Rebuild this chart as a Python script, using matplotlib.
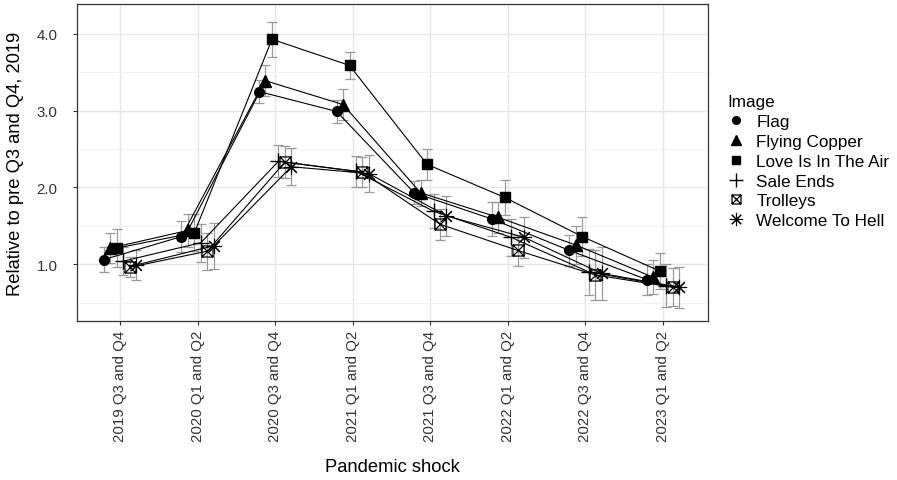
import numpy as np
import matplotlib
matplotlib.use("Agg")
import matplotlib.pyplot as plt
from matplotlib.path import Path
from matplotlib.lines import Line2D

plt.rcParams['font.family'] = ['Liberation Sans', 'DejaVu Sans']

categories = ['2019 Q3 and Q4', '2020 Q1 and Q2', '2020 Q3 and Q4', '2021 Q1 and Q2',
              '2021 Q3 and Q4', '2022 Q1 and Q2', '2022 Q3 and Q4', '2023 Q1 and Q2']
series = ['Flag', 'Flying Copper', 'Love Is In The Air', 'Sale Ends', 'Trolleys', 'Welcome To Hell']

flag = [1.06, 1.36, 3.25, 2.99, 1.93, 1.59, 1.18, 0.80]
flying_copper = [1.21, 1.44, 3.39, 3.08, 1.93, 1.61, 1.25, 0.83]
love = [1.21, 1.41, 3.93, 3.59, 2.30, 1.87, 1.36, 0.91]
sale_ends = [1.04, 1.28, 2.34, 2.21, 1.69, 1.35, 0.90, 0.72]
trolleys = [0.96, 1.17, 2.33, 2.20, 1.52, 1.18, 0.86, 0.70]
welcome = [0.99, 1.24, 2.27, 2.18, 1.63, 1.35, 0.88, 0.70]

flag_err = [0.16, 0.20, 0.15, 0.15, 0.15, 0.22, 0.20, 0.20]
flying_copper_err = [0.20, 0.22, 0.20, 0.20, 0.17, 0.20, 0.25, 0.22]
love_err = [0.25, 0.24, 0.23, 0.18, 0.20, 0.23, 0.25, 0.23]
sale_ends_err = [0.18, 0.25, 0.21, 0.20, 0.22, 0.24, 0.30, 0.28]
trolleys_err = [0.13, 0.24, 0.21, 0.20, 0.20, 0.20, 0.33, 0.25]
welcome_err = [0.20, 0.30, 0.24, 0.24, 0.26, 0.27, 0.35, 0.27]

values = [flag, flying_copper, love, sale_ends, trolleys, welcome]
errors = [flag_err, flying_copper_err, love_err, sale_ends_err, trolleys_err, welcome_err]

# square with an x inside (R pch 7)
box_x = Path([(-1, -1), (1, -1), (1, 1), (-1, 1), (-1, -1), (-1, -1), (1, 1), (-1, 1), (1, -1)],
             [Path.MOVETO, Path.LINETO, Path.LINETO, Path.LINETO, Path.CLOSEPOLY,
              Path.MOVETO, Path.LINETO, Path.MOVETO, Path.LINETO])
markers = ['o', '^', 's', '+', box_x, (8, 2, 0)]
msizes = [7, 8, 7.5, 11, 8, 11]
mews = [1.0, 1.0, 1.0, 1.0, 0.9, 0.8]
filled = [True, True, True, False, False, False]

fig = plt.figure(figsize=(8.97, 4.81), dpi=100)
ax = fig.add_axes([77 / 897, 1 - 322 / 481, 631 / 897, 317 / 481])

x = np.arange(len(categories))
dodge = 0.5
for i, (name, y, e) in enumerate(zip(series, values, errors)):
    xs = x + (i - 2.5) * dodge / 6
    ax.errorbar(xs, y, yerr=e, fmt='none', ecolor='#9a9a9a', elinewidth=0.9,
                capsize=3.5, capthick=0.9, zorder=2)
    ax.plot(xs, y, color='black', lw=0.8, zorder=3)
    ax.plot(xs, y, linestyle='none', marker=markers[i], markersize=msizes[i],
            markerfacecolor='black' if filled[i] else 'none', markeredgecolor='black',
            markeredgewidth=mews[i], zorder=4)

ax.set_xlim(-0.555, 7.58)
ax.set_ylim(0.26, 4.39)
ax.set_xticks(x)
ax.set_xticklabels(categories, rotation=90, fontsize=10.8, color='#333333')
ax.set_yticks([1.0, 2.0, 3.0, 4.0])
ax.set_yticklabels(['1.0', '2.0', '3.0', '4.0'], fontsize=10.8, color='#333333')
ax.set_yticks([0.5, 1.5, 2.5, 3.5], minor=True)
ax.grid(True, which='major', color='#e6e6e6', lw=1.0)
ax.grid(True, which='minor', axis='y', color='#f0f0f0', lw=0.6)
ax.tick_params(which='minor', length=0)
ax.tick_params(which='major', length=3, color='#333333', width=0.8)
ax.tick_params(axis='y', pad=11)
ax.set_axisbelow(True)
for s in ax.spines.values():
    s.set_color('#333333')
    s.set_linewidth(0.9)

ax.set_ylabel('Relative to pre Q3 and Q4, 2019', fontsize=13.2, labelpad=9)
ax.set_xlabel('Pandemic shock', fontsize=13.2, labelpad=12)

handles = []
for i, name in enumerate(series):
    handles.append(Line2D([], [], linestyle='none', marker=markers[i], markersize=msizes[i] - 1.5,
                          markerfacecolor='black' if filled[i] else 'none',
                          markeredgecolor='black', markeredgewidth=mews[i], label=name))
leg = fig.legend(handles=handles, title='Image', loc='upper left',
                 bbox_to_anchor=(712 / 897, 1 - 80 / 481), frameon=False,
                 fontsize=12.3, title_fontsize=12.3, handlelength=1.0, handletextpad=0.7,
                 labelspacing=0.28)
leg._legend_box.align = 'left'

fig.savefig('out.png', dpi=100)
